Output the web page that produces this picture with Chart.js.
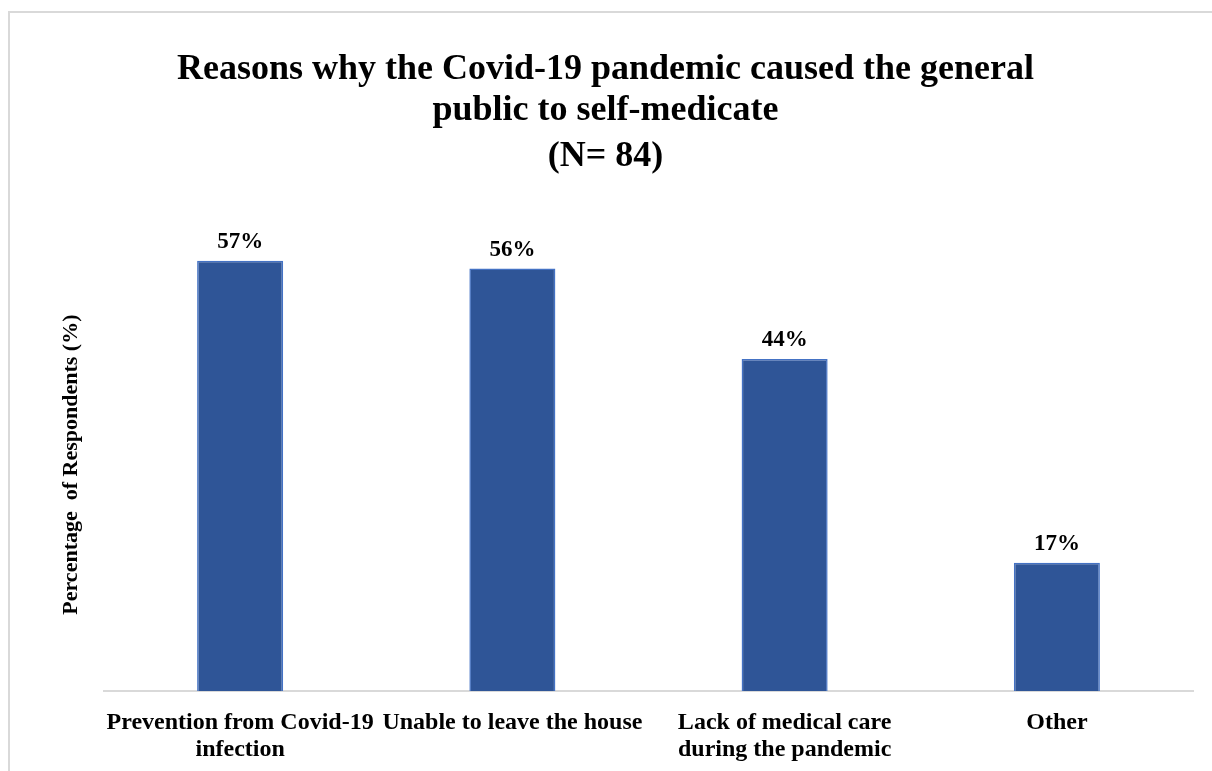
<!DOCTYPE html>
<html>
<head>
<meta charset="utf-8">
<script src="https://cdn.jsdelivr.net/npm/chart.js@4/dist/chart.umd.min.js"></script>
<style>
  html, body { margin: 0; padding: 0; background: #fff; }
  #frame {
    position: absolute; left: 8px; top: 11px; width: 1204px; height: 760px;
    border-top: 2px solid #d9d9d9; border-left: 2px solid #d9d9d9;
    box-sizing: border-box;
  }
  #wrap { position: absolute; left: 0; top: 0; width: 1212px; height: 771px; }
</style>
</head>
<body>
<div id="frame"></div>
<div id="wrap"><canvas id="chart"></canvas></div>
<script>
// ── dados ────────────────────────────────────────────────────────────────────
const CATEGORIES = [
  ['Prevention from Covid-19', 'infection'],
  'Unable to leave the house',
  ['Lack of medical care', 'during the pandemic'],
  'Other'
];
const PERCENTS = [57, 56, 44, 17];
const TITLE_LINES = ['Reasons why the Covid-19 pandemic caused the general', 'public to self-medicate'];
const SUBTITLE = '(N= 84)';

const SERIF = '"Liberation Serif", "Times New Roman", serif';

// Rótulos de valor por cima de cada barra
const valueLabels = {
  id: 'valueLabels',
  afterDatasetsDraw(chart) {
    const ctx = chart.ctx;
    const meta = chart.getDatasetMeta(0);
    ctx.save();
    ctx.font = 'bold 23px ' + SERIF;
    ctx.fillStyle = '#000';
    ctx.textAlign = 'center';
    ctx.textBaseline = 'bottom';
    meta.data.forEach((bar, i) => {
      ctx.fillText(PERCENTS[i] + '%', bar.x, bar.y - 7);
    });
    ctx.restore();
  }
};

new Chart(document.getElementById('chart'), {
  type: 'bar',
  data: {
    labels: CATEGORIES,
    datasets: [{
      data: PERCENTS,
      backgroundColor: '#2F5597',
      borderColor: '#4472C4',
      borderWidth: 1.5,
      barPercentage: 0.316,
      categoryPercentage: 1
    }]
  },
  options: {
    responsive: true,
    maintainAspectRatio: false,
    animation: false,
    layout: { padding: { left: 18, right: 19, top: 35, bottom: 0 } },
    plugins: {
      legend: { display: false },
      tooltip: { enabled: false },
      title: {
        display: true,
        text: TITLE_LINES,
        color: '#000',
        font: { family: SERIF, size: 36, weight: 'bold', lineHeight: 1.15 },
        padding: { top: 14, bottom: 0 }
      },
      subtitle: {
        display: true,
        text: SUBTITLE,
        color: '#000',
        font: { family: SERIF, size: 36, weight: 'bold', lineHeight: 1.15 },
        padding: { top: 4, bottom: 61 }
      }
    },
    scales: {
      x: {
        grid: { display: false, drawTicks: false },
        border: { color: '#d9d9d9', width: 2 },
        ticks: {
          color: '#000',
          font: { family: SERIF, size: 24, weight: 'bold', lineHeight: 1.1 },
          padding: 19,
          maxRotation: 0,
          autoSkip: false
        },
        afterFit(scale) { scale.height = 80; }
      },
      y: {
        min: 0,
        max: 60,
        grid: { display: false, drawTicks: false },
        border: { display: false },
        ticks: { display: false },
        title: {
          display: true,
          text: 'Percentage  of Respondents (%)',
          color: '#000',
          font: { family: SERIF, size: 22, weight: 'bold' },
          padding: { top: 40, bottom: 0 }
        },
        afterFit(scale) { scale.width = 86; }
      }
    }
  },
  plugins: [valueLabels]
});
</script>
</body>
</html>
